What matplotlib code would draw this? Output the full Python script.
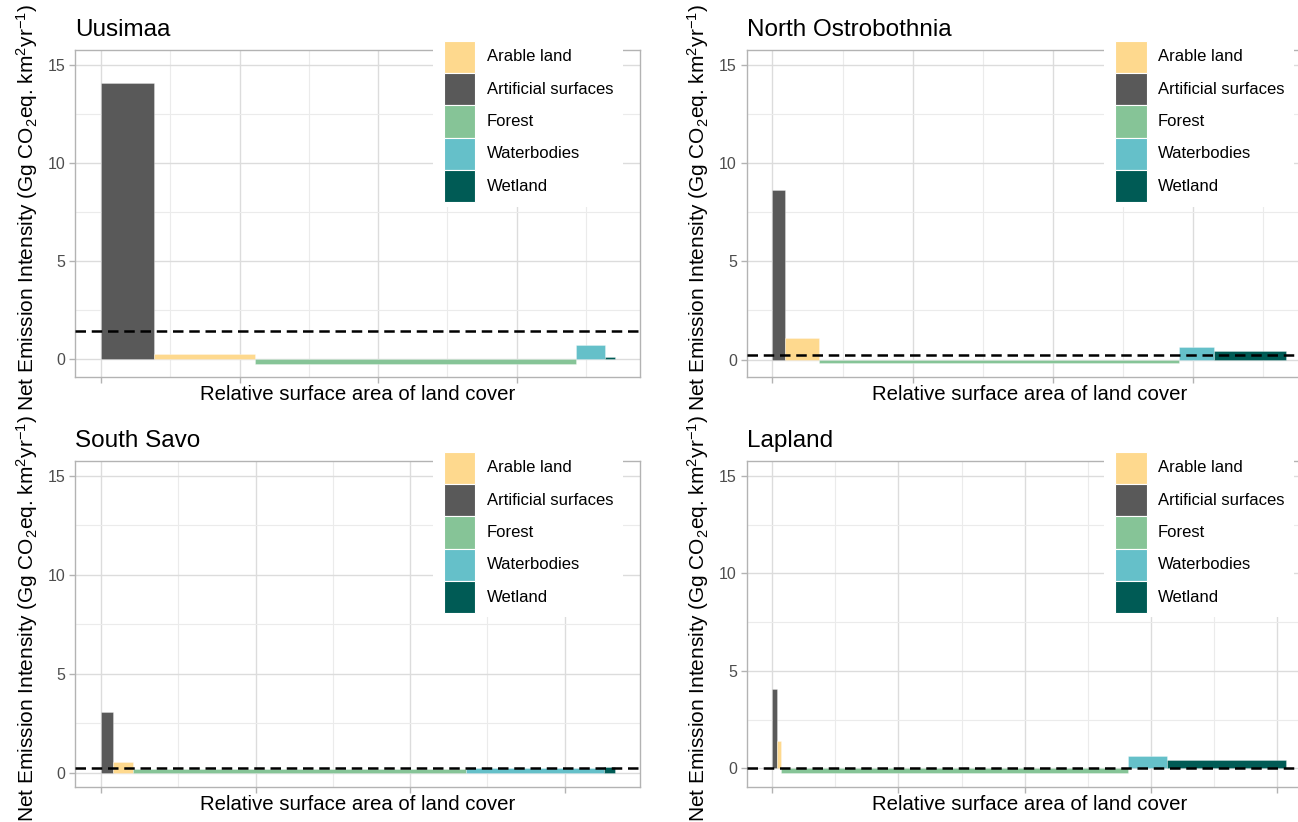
import numpy as np
import matplotlib.pyplot as plt
from matplotlib.patches import Rectangle
from matplotlib.ticker import MultipleLocator

plt.rcParams['font.family'] = ['Liberation Sans', 'DejaVu Sans']
plt.rcParams['mathtext.fontset'] = 'custom'
plt.rcParams['mathtext.rm'] = 'Liberation Sans'
plt.rcParams['mathtext.it'] = 'Liberation Sans:italic'
plt.rcParams['mathtext.default'] = 'regular'

# bar order along the x axis
land_covers = ['Artificial surfaces', 'Arable land', 'Forest', 'Waterbodies', 'Wetland']
legend_order = ['Arable land', 'Artificial surfaces', 'Forest', 'Waterbodies', 'Wetland']
colours = {'Arable land': '#FED98E', 'Artificial surfaces': '#595959', 'Forest': '#86C497',
           'Waterbodies': '#65C0C9', 'Wetland': '#005B55'}

regions = ['Uusimaa', 'North Ostrobothnia', 'South Savo', 'Lapland']

# surface area of each land cover (km2), same order as land_covers
area_uusimaa = [955, 1820, 5800, 513, 180]
area_north_ostrobothnia = [903, 2440, 25676, 2440, 5157]
area_south_savo = [388, 646, 10763, 4460, 356]
area_lapland = [990, 693, 68884, 7621, 23654]

# net emission intensity (Gg CO2eq. km2 yr-1)
nei_uusimaa = [14.1, 0.25, -0.22, 0.73, 0.14]
nei_north_ostrobothnia = [8.62, 1.09, -0.2, 0.66, 0.42]
nei_south_savo = [3.05, 0.54, 0.2, 0.22, 0.30]
nei_lapland = [4.06, 1.42, -0.25, 0.65, 0.40]

# regional mean (dashed line)
mean_nei = [1.44, 0.22, 0.24, 0.02]
x_tick_step = [2500, 10000, 5000, 25000]

areas = [area_uusimaa, area_north_ostrobothnia, area_south_savo, area_lapland]
neis = [nei_uusimaa, nei_north_ostrobothnia, nei_south_savo, nei_lapland]

W, H = 1298, 822
fig = plt.figure(figsize=(W / 100, H / 100), dpi=100)

# panel boxes in pixels: left, top, width, height
boxes = [(75.3, 50, 565, 327), (746.7, 50, 565, 327),
         (75.3, 461, 565, 326), (746.7, 461, 565, 326)]
y_bottom = [-0.9, -0.89, -0.73, -0.96]

ylab = 'Net Emission Intensity (Gg CO$_2$eq. km$^2$yr$^{-1}$)'


def draw_legend(ax, h_px):
    ax.add_patch(Rectangle((0.633, 0.52), 0.3355, 1.0606 - 0.52, transform=ax.transAxes,
                           facecolor='white', edgecolor='none', clip_on=False, zorder=5))
    key_h = 32.3 / h_px
    top = 1 + 9.3 / h_px
    for i, name in enumerate(legend_order):
        y0 = top - (i + 1) * key_h
        ax.add_patch(Rectangle((0.6517, y0), 0.0566, key_h, transform=ax.transAxes,
                               facecolor=colours[name], edgecolor='white', lw=0.8,
                               clip_on=False, zorder=6))
        ax.text(0.728, y0 + key_h / 2, name, transform=ax.transAxes, fontsize=12,
                va='center', ha='left', color='black', zorder=7)


for i, region in enumerate(regions):
    l, t, w, h = boxes[i]
    ax = fig.add_axes([l / W, (H - t - h) / H, w / W, h / H])
    area = np.array(areas[i], dtype=float)
    nei = np.array(neis[i])
    x_left = np.concatenate([[0], np.cumsum(area)[:-1]])
    ax.bar(x_left, nei, width=area, align='edge',
           color=[colours[c] for c in land_covers],
           edgecolor=(1, 1, 1, 0.35), linewidth=0.6, zorder=2)
    ax.axhline(mean_nei[i], color='black', lw=1.8, ls=(0, (4.2, 2.3)), zorder=4)

    total = area.sum()
    ax.set_xlim(-0.05 * total, 1.05 * total)
    ax.set_ylim(y_bottom[i], 15.76)

    ax.xaxis.set_major_locator(MultipleLocator(x_tick_step[i]))
    ax.xaxis.set_minor_locator(MultipleLocator(x_tick_step[i] / 2))
    ax.yaxis.set_major_locator(MultipleLocator(5))
    ax.yaxis.set_minor_locator(MultipleLocator(2.5))
    ax.set_axisbelow(True)
    ax.grid(which='major', color='#DCDCDC', lw=1.0, zorder=0)
    ax.grid(which='minor', color='#EBEBEB', lw=0.8, zorder=0)
    ax.tick_params(which='major', length=4.5, width=1, color='#B3B3B3',
                   labelsize=11.5, labelcolor='#4D4D4D', pad=2.5)
    ax.tick_params(which='minor', length=0)
    ax.tick_params(axis='x', labelbottom=False)
    for sp in ax.spines.values():
        sp.set_color('#B3B3B3')
        sp.set_linewidth(1.0)

    ax.set_title(region, loc='left', fontsize=17.5, pad=10.3, color='black')
    ax.set_xlabel('Relative surface area of land cover', fontsize=14.7)
    ax.xaxis.set_label_coords(0.5, -0.0245)
    ax.set_ylabel(ylab, fontsize=15)
    ax.yaxis.set_label_coords(-0.0625, 0.518)

    draw_legend(ax, h)

fig.savefig('out.png', dpi=100)
